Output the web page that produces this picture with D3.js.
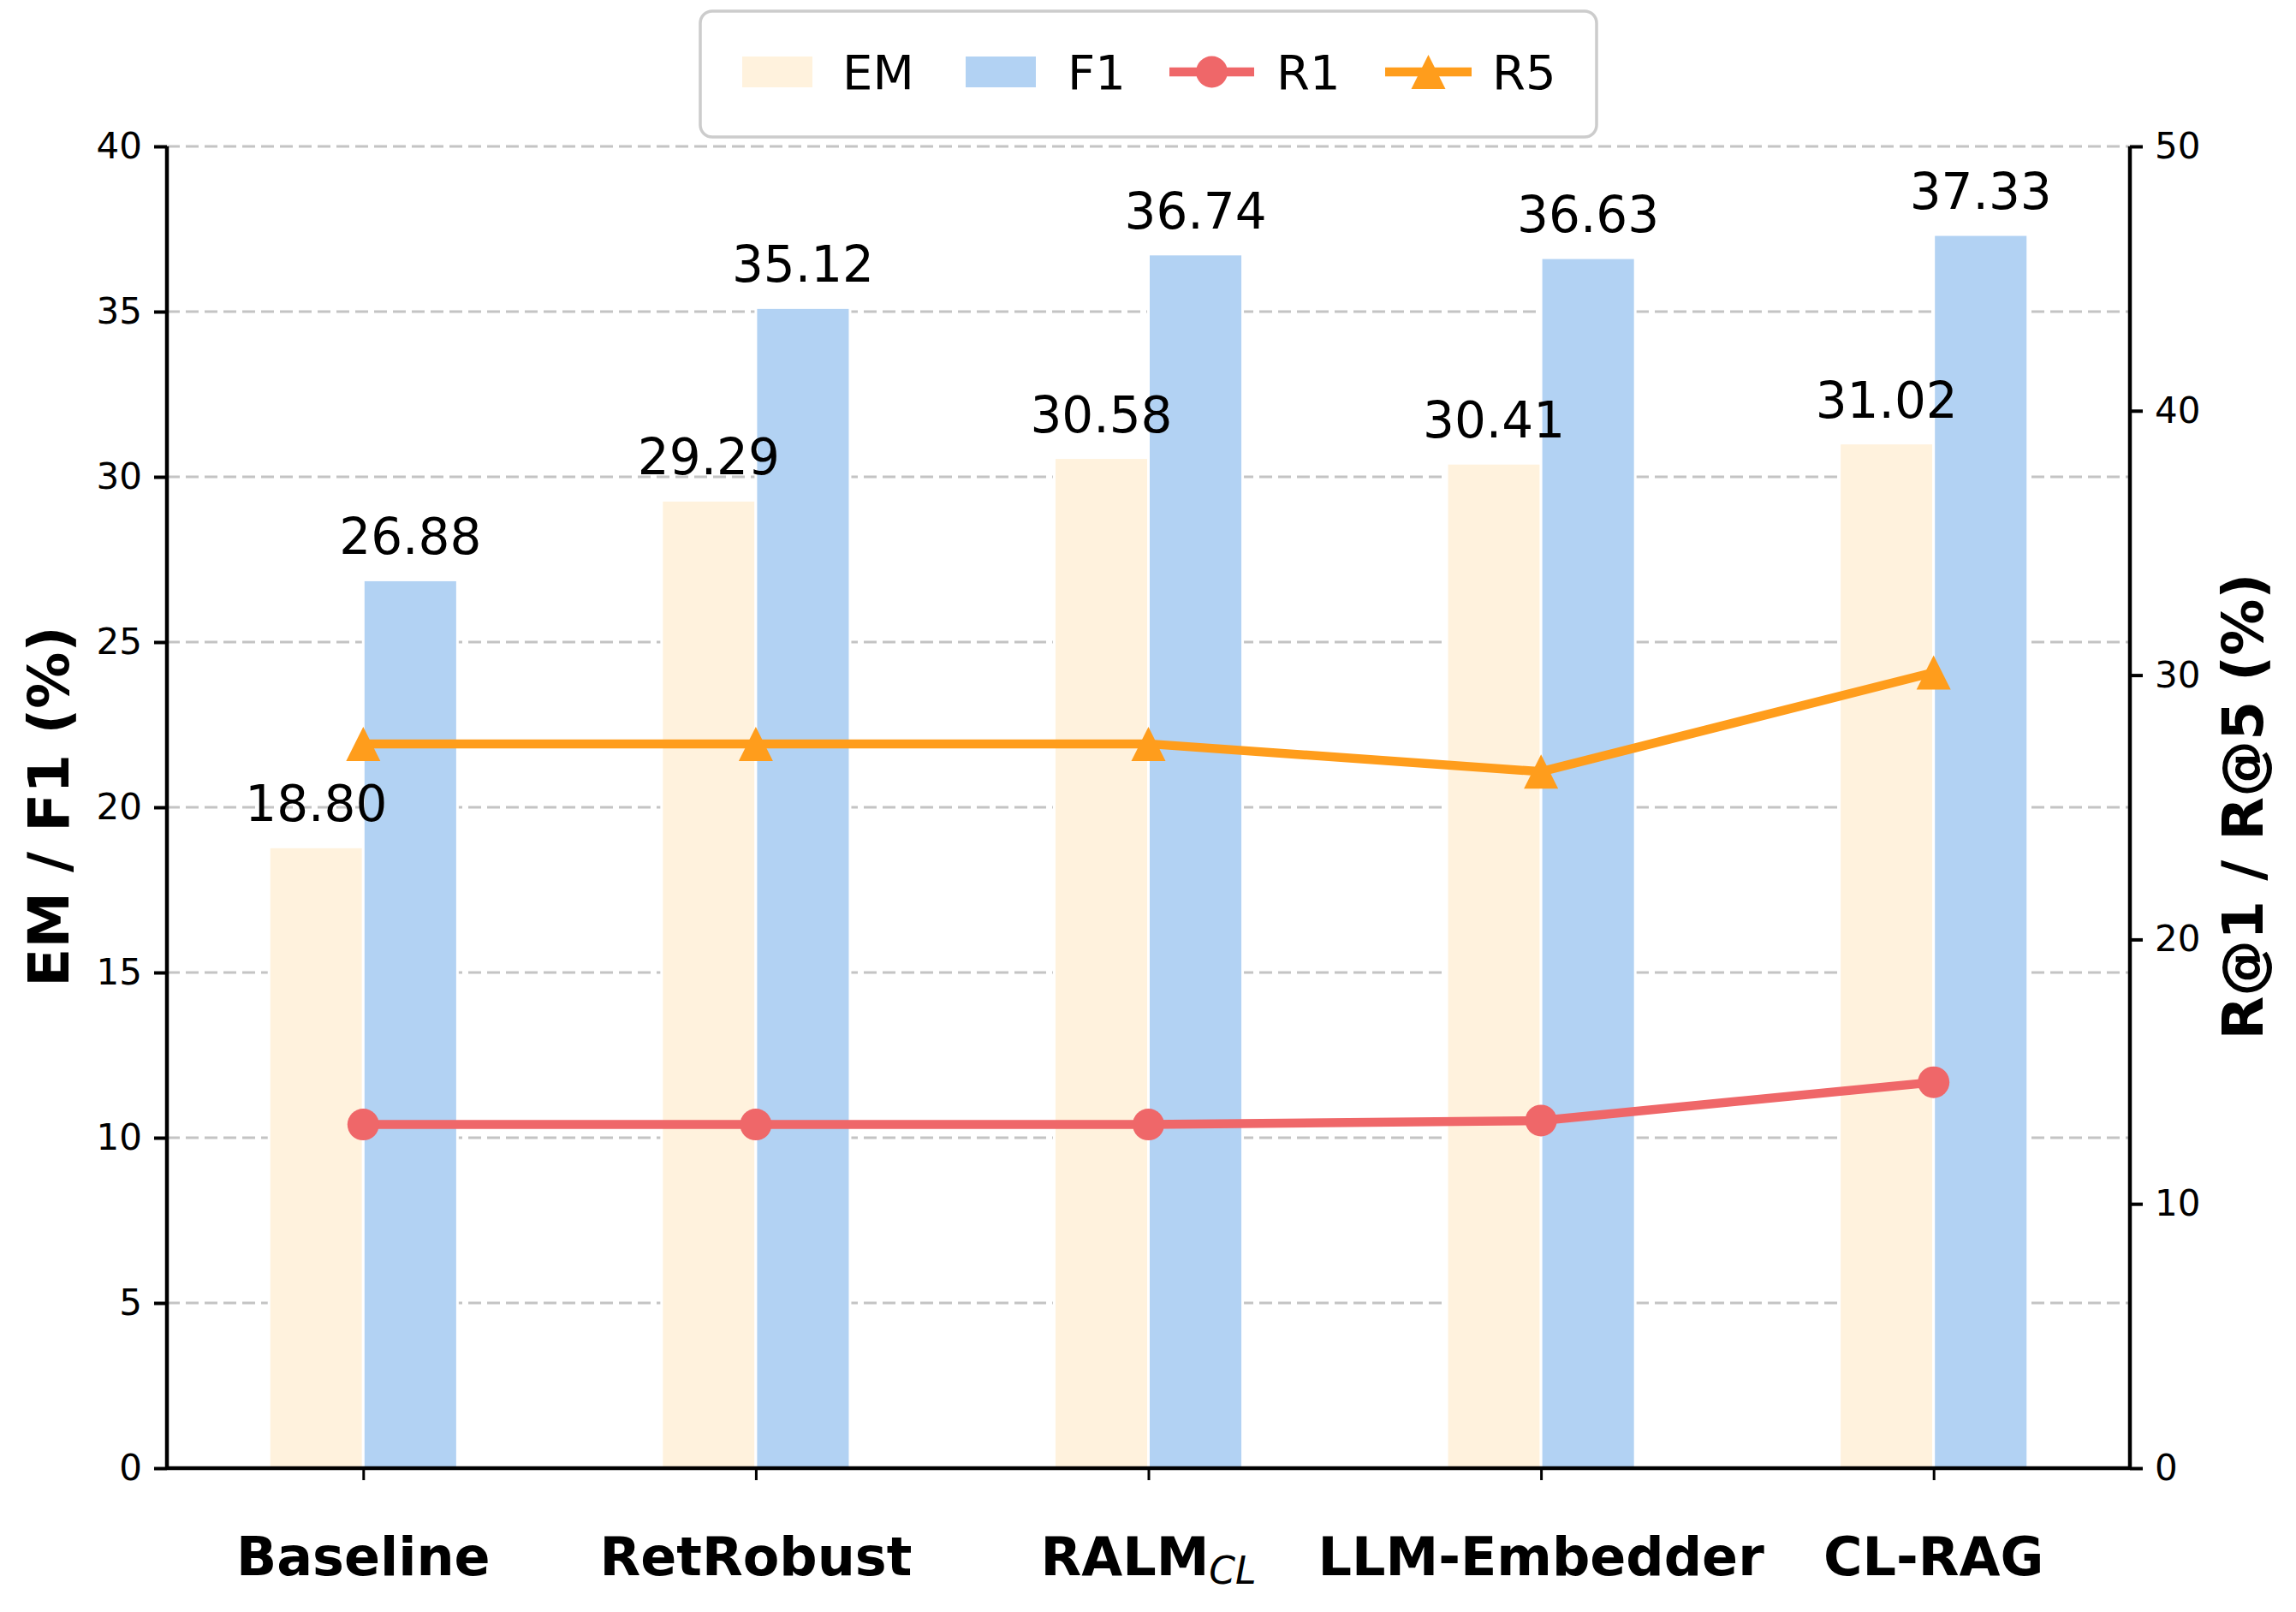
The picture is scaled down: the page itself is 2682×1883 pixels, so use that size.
<!DOCTYPE html>
<html><head><meta charset="utf-8">
<script src="https://cdn.jsdelivr.net/npm/d3@7"></script>
<style>body{margin:0;background:#fff}svg{display:block}text{font-family:"DejaVu Sans",sans-serif}</style>
</head><body>
<script>
const categories = ["Baseline","RetRobust","RALM","LLM-Embedder","CL-RAG"];
const emValues = [18.80, 29.29, 30.58, 30.41, 31.02];
const f1Values = [26.88, 35.12, 36.74, 36.63, 37.33];
const r1Values = [13.0, 13.0, 13.0, 13.15, 14.6];
const r5Values = [27.4, 27.4, 27.4, 26.35, 30.1];
const leftTicks = [0,5,10,15,20,25,30,35,40];
const rightTicks = [0,10,20,30,40,50];
const legendLabels = ["EM","F1","R1","R5"];

const W=2682,H=1883;
const L=195,R=2488,T=171,B=1715;
const C={em:"#FFF2DD",f1:"#B2D2F3",r1:"#EF6769",r5:"#FF9D1C",grid:"#c4c4c4"};
const svg=d3.select("body").append("svg").attr("width",W).attr("height",H);
const x=d3.scaleLinear().domain([-0.5,4.5]).range([L,R]);
const yL=d3.scaleLinear().domain([0,40]).range([B,T]);
const yR=d3.scaleLinear().domain([0,50]).range([B,T]);
const bw=0.24;

// grid
svg.append("g").selectAll("line").data(leftTicks.slice(1)).join("line")
 .attr("x1",L).attr("x2",R).attr("y1",d=>yL(d)).attr("y2",d=>yL(d))
 .attr("stroke",C.grid).attr("stroke-width",3).attr("stroke-dasharray","15,7");

// bars
const g=svg.append("g");
g.selectAll(".em").data(emValues).join("rect")
 .attr("x",(d,i)=>x(i-bw)).attr("width",x(bw)-x(0)).attr("y",d=>yL(d)).attr("height",d=>B-yL(d))
 .attr("fill",C.em).attr("stroke","#fff").attr("stroke-width",3);
g.selectAll(".f1").data(f1Values).join("rect")
 .attr("x",(d,i)=>x(i)).attr("width",x(bw)-x(0)).attr("y",d=>yL(d)).attr("height",d=>B-yL(d))
 .attr("fill",C.f1).attr("stroke","#fff").attr("stroke-width",3);

// value labels
g.selectAll(".eml").data(emValues).join("text")
 .attr("x",(d,i)=>x(i-bw/2)).attr("y",d=>yL(d)-30).attr("text-anchor","middle")
 .attr("font-size",58).text(d=>d.toFixed(2));
g.selectAll(".f1l").data(f1Values).join("text")
 .attr("x",(d,i)=>x(i+bw/2)).attr("y",d=>yL(d)-30).attr("text-anchor","middle")
 .attr("font-size",58).text(d=>d.toFixed(2));

// lines
const line=d3.line().x((d,i)=>x(i)).y(d=>yR(d));
svg.append("path").datum(r1Values).attr("d",line).attr("fill","none").attr("stroke",C.r1).attr("stroke-width",10.5).attr("stroke-linejoin","round");
svg.append("path").datum(r5Values).attr("d",line).attr("fill","none").attr("stroke",C.r5).attr("stroke-width",10.5).attr("stroke-linejoin","round");
svg.append("g").selectAll("circle").data(r1Values).join("circle")
 .attr("cx",(d,i)=>x(i)).attr("cy",d=>yR(d)).attr("r",18.5).attr("fill",C.r1);
const tri=(cx,cy,s)=>`M${cx},${cy-s}L${cx-s},${cy+s}L${cx+s},${cy+s}Z`;
svg.append("g").selectAll("path").data(r5Values).join("path")
 .attr("d",(d,i)=>tri(x(i),yR(d),20)).attr("fill",C.r5);

// axes
const axL=svg.append("g").attr("transform",`translate(${L},0)`).call(d3.axisLeft(yL).tickValues(leftTicks).tickSize(15).tickPadding(14));
const axR=svg.append("g").attr("transform",`translate(${R},0)`).call(d3.axisRight(yR).tickValues(rightTicks).tickSize(15).tickPadding(14));
const axB=svg.append("g").attr("transform",`translate(0,${B})`).call(d3.axisBottom(x).tickValues(d3.range(5)).tickSize(14).tickFormat(""));
[axL,axR].forEach(a=>{a.selectAll("text").attr("font-size",42).attr("fill","#000").attr("font-family","DejaVu Sans");
 a.select(".domain").attr("stroke","#000").attr("stroke-width",4.5).attr("d",`M0,${T}V${B}`);
 a.selectAll(".tick line").attr("stroke","#000").attr("stroke-width",4);});
axB.select(".domain").attr("stroke","#000").attr("stroke-width",4.5).attr("d",`M${L},0H${R}`);
axB.selectAll(".tick line").attr("stroke","#000").attr("stroke-width",3);

// x labels
const xl=svg.append("g");
categories.forEach((c,i)=>{
 const t=xl.append("text").attr("x",x(i)).attr("y",1840).attr("text-anchor","middle").attr("font-size",62).attr("font-weight","bold");
 t.append("tspan").text(c);
 if(c==="RALM"){t.append("tspan").attr("font-size",44).attr("font-weight","normal").attr("font-style","italic").attr("dy",10).text("CL");}
});

// axis titles
svg.append("text").attr("transform",`translate(80,942) rotate(-90)`).attr("text-anchor","middle").attr("font-size",66).attr("font-weight","bold").text("EM / F1 (%)");
svg.append("text").attr("transform",`translate(2643,942) rotate(-90)`).attr("text-anchor","middle").attr("font-size",66).attr("font-weight","bold").text("R@1 / R@5 (%)");

// legend
const lg=svg.append("g");
lg.append("rect").attr("x",818).attr("y",13).attr("width",1047).attr("height",147).attr("rx",14).attr("fill","#fff").attr("stroke","#cccccc").attr("stroke-width",3.5);
const lx=[867,1128,1366,1618];
lg.append("rect").attr("x",lx[0]).attr("y",66).attr("width",82).attr("height",36).attr("fill",C.em);
lg.append("rect").attr("x",lx[1]).attr("y",66).attr("width",82).attr("height",36).attr("fill",C.f1);
lg.append("line").attr("x1",lx[2]).attr("x2",lx[2]+99).attr("y1",84).attr("y2",84).attr("stroke",C.r1).attr("stroke-width",10.5);
lg.append("circle").attr("cx",lx[2]+49.5).attr("cy",84).attr("r",18.5).attr("fill",C.r1);
lg.append("line").attr("x1",lx[3]).attr("x2",lx[3]+101).attr("y1",84).attr("y2",84).attr("stroke",C.r5).attr("stroke-width",10.5);
lg.append("path").attr("d",tri(lx[3]+50.5,84,20)).attr("fill",C.r5);
const tx=[984,1247,1491,1743];
legendLabels.forEach((l,i)=>lg.append("text").attr("x",tx[i]).attr("y",104).attr("font-size",56).text(l));
</script>
</body></html>
